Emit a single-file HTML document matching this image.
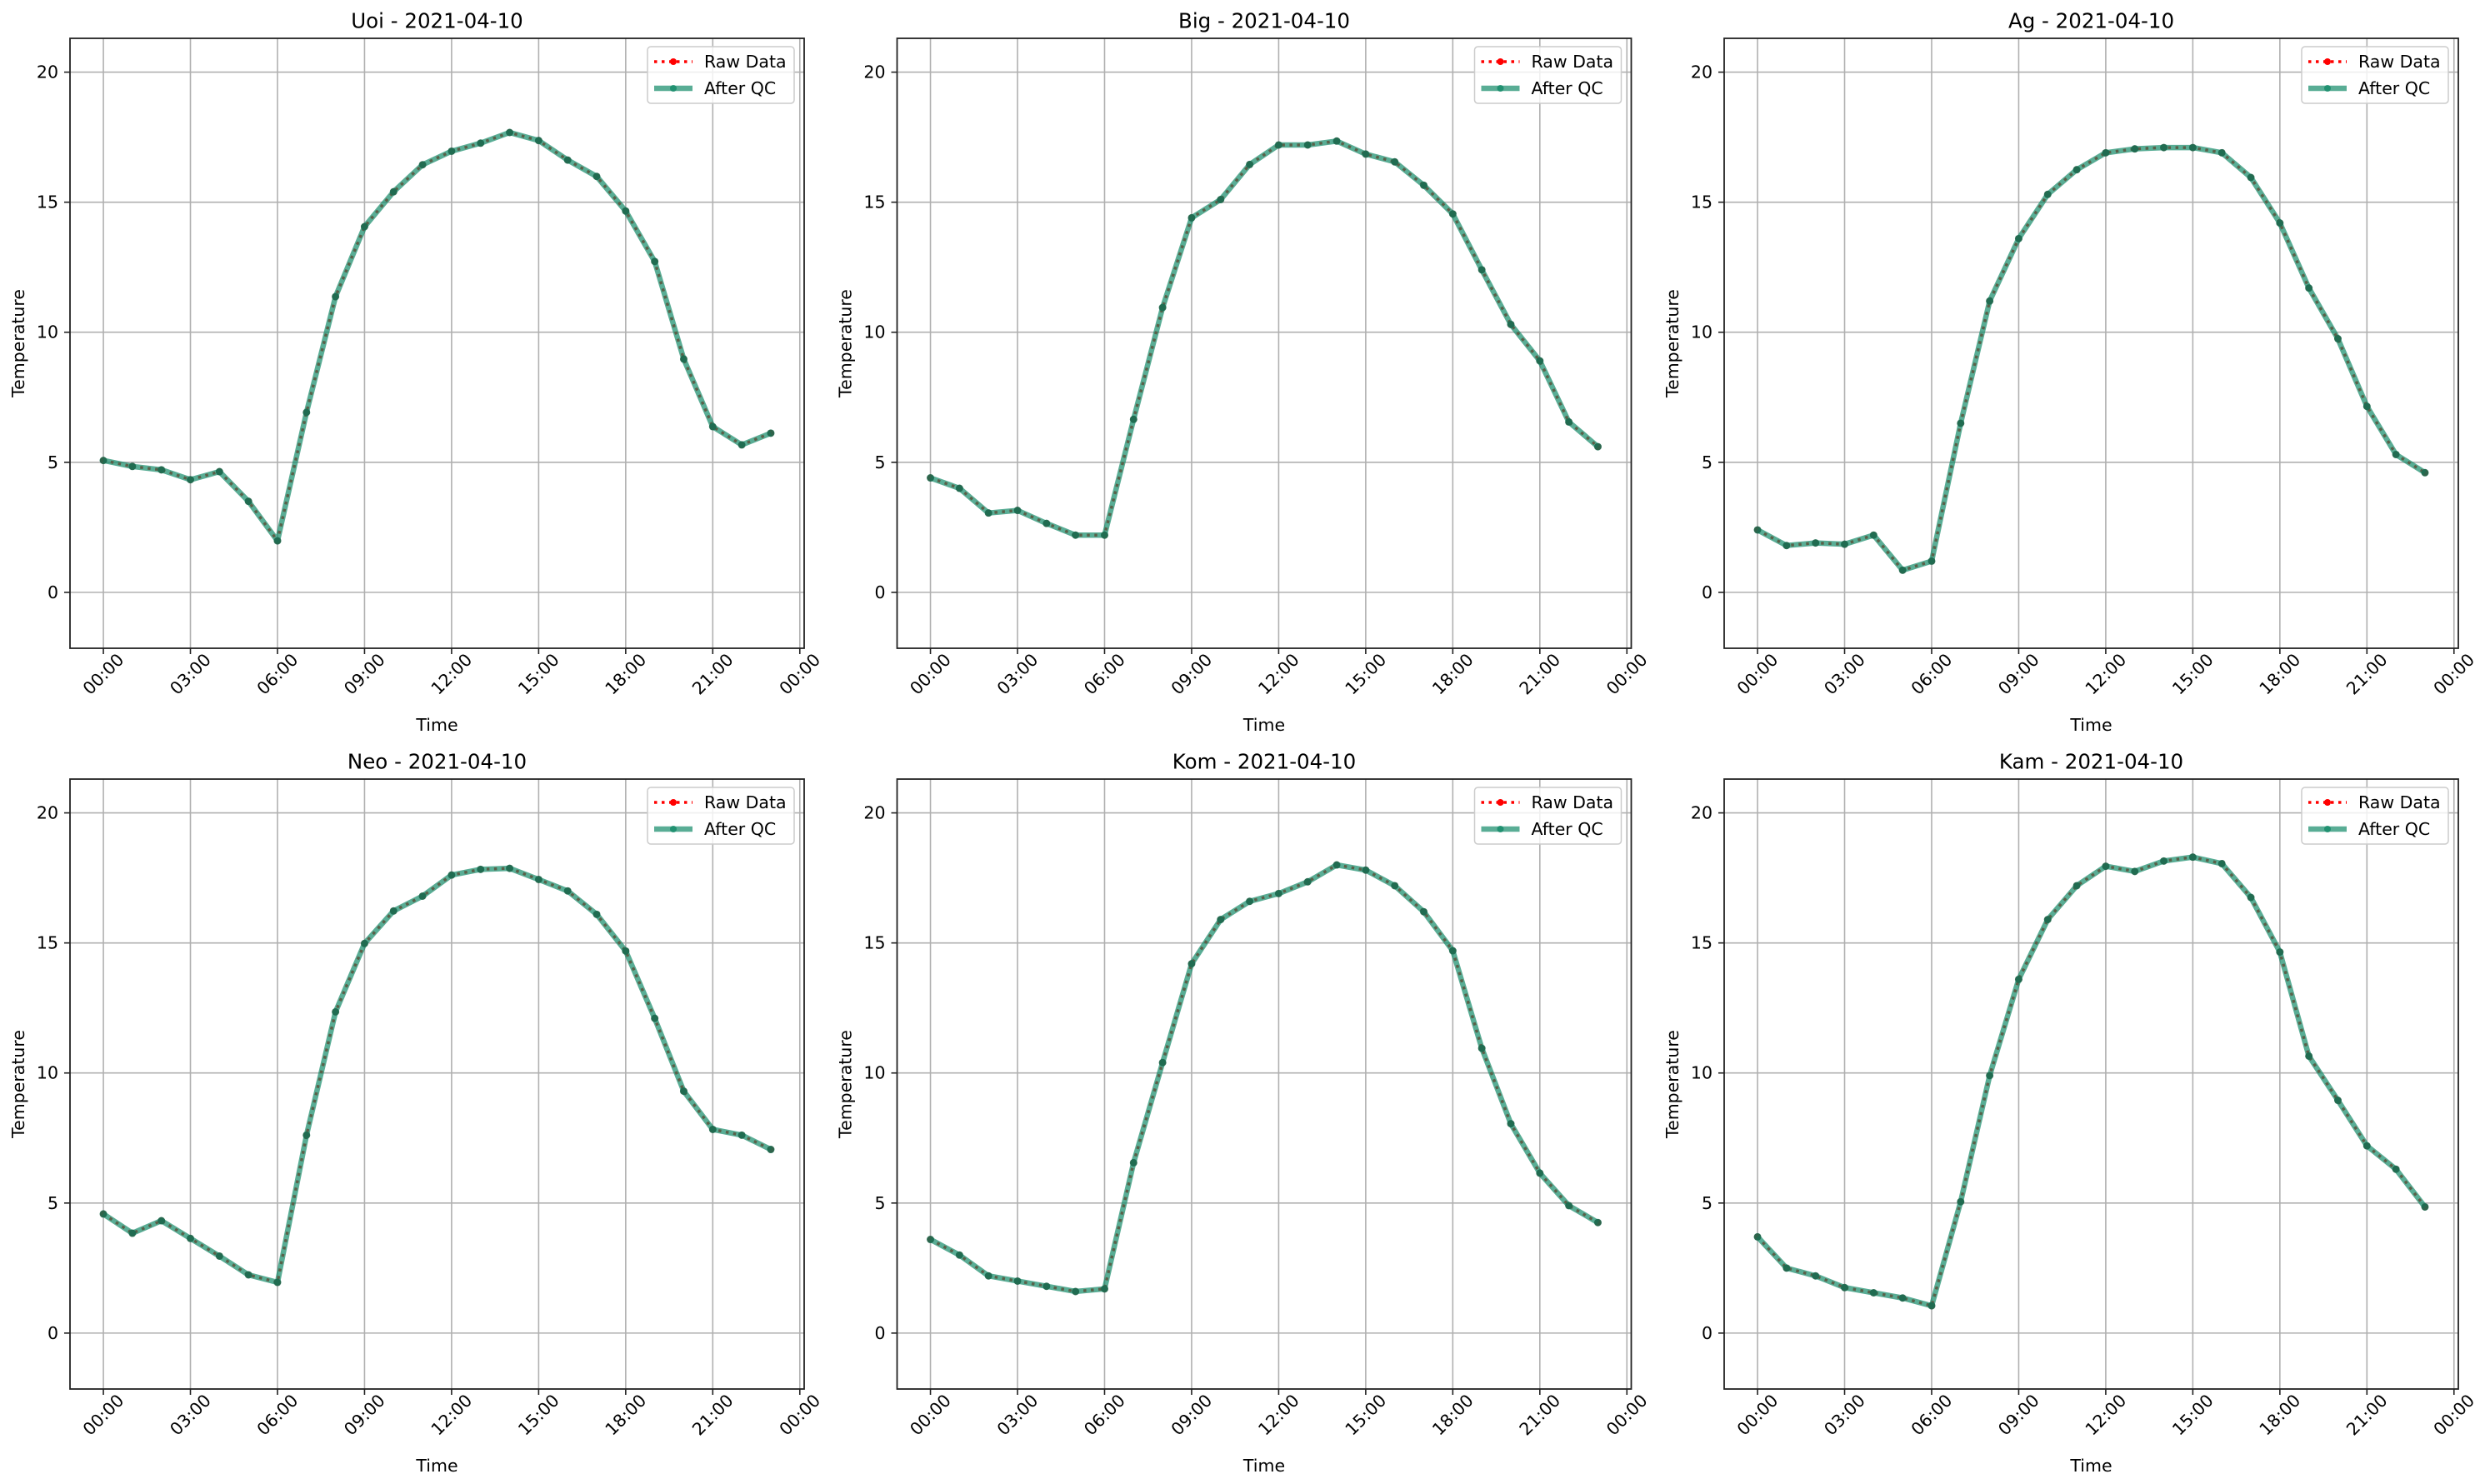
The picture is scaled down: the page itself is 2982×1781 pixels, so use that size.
<!DOCTYPE html>
<html><head><meta charset="utf-8"><style>
html,body{margin:0;padding:0;background:#fff;}
svg{display:block;font-family:"DejaVu Sans","Liberation Sans",sans-serif;}
</style></head><body>
<svg id="fig" xmlns="http://www.w3.org/2000/svg" width="2982" height="1781" viewBox="0 0 2982 1781"></svg>
<script>
const stations = ["Uoi","Big","Ag","Neo","Kom","Kam"];
const dateLabel = "2021-04-10";
const hours = [0,1,2,3,4,5,6,7,8,9,10,11,12,13,14,15,16,17,18,19,20,21,22,23];
const uoiTemps = [5.07,4.84,4.71,4.33,4.64,3.5,1.98,6.92,11.37,14.06,15.4,16.44,16.96,17.27,17.68,17.37,16.62,15.99,14.66,12.72,8.97,6.37,5.67,6.12];
const bigTemps = [4.4,4.0,3.05,3.15,2.65,2.2,2.2,6.65,10.95,14.4,15.1,16.45,17.2,17.2,17.35,16.85,16.55,15.65,14.55,12.4,10.3,8.9,6.55,5.6];
const agTemps = [2.4,1.8,1.9,1.85,2.2,0.85,1.2,6.5,11.2,13.6,15.3,16.25,16.9,17.05,17.1,17.1,16.9,15.95,14.2,11.7,9.75,7.15,5.3,4.6];
const neoTemps = [4.58,3.84,4.32,3.64,2.96,2.24,1.95,7.61,12.35,14.98,16.23,16.8,17.61,17.83,17.87,17.44,17.0,16.1,14.69,12.1,9.3,7.83,7.61,7.06];
const komTemps = [3.6,3.0,2.2,2.0,1.8,1.6,1.7,6.55,10.4,14.2,15.9,16.6,16.9,17.35,18.0,17.8,17.2,16.2,14.7,10.95,8.05,6.15,4.9,4.25];
const kamTemps = [3.7,2.5,2.2,1.75,1.55,1.35,1.05,5.05,9.9,13.6,15.9,17.2,17.95,17.75,18.15,18.3,18.05,16.75,14.65,10.65,8.95,7.2,6.3,4.85];
const xTickHours = [0,3,6,9,12,15,18,21,24];
const xTickLabels = ["00:00","03:00","06:00","09:00","12:00","15:00","18:00","21:00","00:00"];
const yTickValues = [0,5,10,15,20];
const yTickLabels = ["0","5","10","15","20"];

const series = [uoiTemps,bigTemps,agTemps,neoTemps,komTemps,kamTemps];
const NS = "http://www.w3.org/2000/svg";
const fig = document.getElementById("fig");
function mk(tag, attrs, parent){
  const e = document.createElementNS(NS, tag);
  for (const k in attrs) e.setAttribute(k, attrs[k]);
  (parent||fig).appendChild(e);
  return e;
}
const lefts = [84,1076.5,2069];
const tops = [46,935];
const W = 881, H = 732;
const xMin = -1.15, xMax = 24.15, yMin = -2.15, yMax = 21.3;

series.forEach((vals, i) => {
  const L = lefts[i%3], T = tops[Math.floor(i/3)];
  const xs = h => L + (h - xMin)/(xMax - xMin)*W;
  const ys = v => T + H - (v - yMin)/(yMax - yMin)*H;
  const g = mk("g", {});
  
  
  // grid
  xTickHours.forEach((h, k) => {
    const x = xs(h);
    const gl = mk("line", {x1:x,x2:x,y1:T,y2:T+H,stroke:"#b0b0b0","stroke-width":1.6}, g);
    
    
    const tk = mk("line", {x1:x,x2:x,y1:T+H,y2:T+H+7,stroke:"#222","stroke-width":1.6}, g);
    
    
    const cy = T+H+31;
    const t = mk("text", {x:x,y:cy,"font-size":20.5,"text-anchor":"middle","dominant-baseline":"central",transform:`rotate(-45 ${x} ${cy})`,fill:"#000"}, g);
    t.textContent = xTickLabels[k];
    
    
  });
  yTickValues.forEach((v, k) => {
    const y = ys(v);
    const gl = mk("line", {x1:L,x2:L+W,y1:y,y2:y,stroke:"#b0b0b0","stroke-width":1.6}, g);
    
    
    const tk = mk("line", {x1:L-7,x2:L,y1:y,y2:y,stroke:"#222","stroke-width":1.6}, g);
    
    
    const t = mk("text", {x:L-14,y:y,"font-size":20.5,"text-anchor":"end","dominant-baseline":"central",fill:"#000"}, g);
    t.textContent = yTickLabels[k];
    
    
  });
  const pts = vals.map((v, k) => xs(hours[k]) + "," + ys(v)).join(" ");
  const raw = mk("polyline", {points:pts,fill:"none",stroke:"#ff0000","stroke-width":3.5,"stroke-dasharray":"3.5 5.5"}, g);
  
  
  vals.forEach((v, k) => {
    const c = mk("circle", {cx:xs(hours[k]),cy:ys(v),r:4,fill:"#ff0000"}, g);
    
    
  });
  const qc = mk("polyline", {points:pts,fill:"none",stroke:"#138a68","stroke-width":6.5,"stroke-opacity":0.7,"stroke-linejoin":"round"}, g);
  
  
  vals.forEach((v, k) => {
    const c = mk("circle", {cx:xs(hours[k]),cy:ys(v),r:4.5,fill:"#1a6e52","fill-opacity":0.9}, g);
    
    
  });
  const frame = mk("rect", {x:L,y:T,width:W,height:H,fill:"none",stroke:"#222","stroke-width":1.8}, g);
  
  
  const title = mk("text", {x:L+W/2,y:T-21,"font-size":24.5,"text-anchor":"middle","dominant-baseline":"central",fill:"#000"}, g);
  title.textContent = stations[i] + " - " + dateLabel;
  
  
  const xl = mk("text", {x:L+W/2,y:T+H+92,"font-size":20.5,"text-anchor":"middle","dominant-baseline":"central",fill:"#000"}, g);
  xl.textContent = "Time";
  
  
  const yx = L-62, yy = T+H/2;
  const yl = mk("text", {x:yx,y:yy,"font-size":20.5,"text-anchor":"middle","dominant-baseline":"central",transform:`rotate(-90 ${yx} ${yy})`,fill:"#000"}, g);
  yl.textContent = "Temperature";
  
  
  // legend
  const lg = mk("g", {}, g);
  
  
  const lx = L+W-188, ly = T+10;
  mk("rect", {x:lx,y:ly,width:176,height:68,rx:4,fill:"#fff","fill-opacity":0.8,stroke:"#cccccc","stroke-width":1.5}, lg);
  const r1 = ly+18, r2 = ly+50;
  mk("line", {x1:lx+8,x2:lx+54,y1:r1,y2:r1,stroke:"#ff0000","stroke-width":3.5,"stroke-dasharray":"3.5 5.5"}, lg);
  mk("circle", {cx:lx+31,cy:r1,r:4,fill:"#ff0000"}, lg);
  const t1 = mk("text", {x:lx+68,y:r1,"font-size":20.5,"dominant-baseline":"central",fill:"#000"}, lg);
  t1.textContent = "Raw Data";
  
  
  mk("line", {x1:lx+8,x2:lx+54,y1:r2,y2:r2,stroke:"#138a68","stroke-width":6.5,"stroke-opacity":0.7}, lg);
  mk("circle", {cx:lx+31,cy:r2,r:4,fill:"#138a68","fill-opacity":0.8}, lg);
  const t2 = mk("text", {x:lx+68,y:r2,"font-size":20.5,"dominant-baseline":"central",fill:"#000"}, lg);
  t2.textContent = "After QC";
  
  
});
</script>
</body></html>
